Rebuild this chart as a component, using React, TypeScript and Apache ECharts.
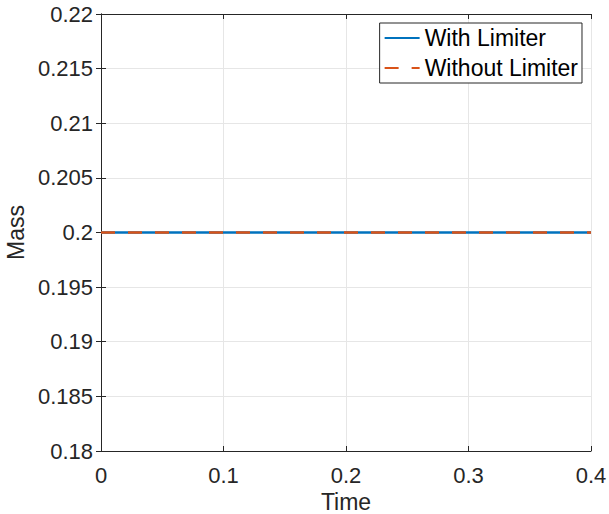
import React, { useEffect, useRef } from "react";
import * as echarts from "echarts";

// Total mass over time, with and without the slope limiter
const timeSteps = [0, 0.05, 0.1, 0.15, 0.2, 0.25, 0.3, 0.35, 0.4];
const massWithLimiter = [0.2, 0.2, 0.2, 0.2, 0.2, 0.2, 0.2, 0.2, 0.2];
const massWithoutLimiter = [0.2, 0.2, 0.2, 0.2, 0.2, 0.2, 0.2, 0.2, 0.2];
const seriesNames = ["With Limiter", "Without Limiter"];

const FONT = "'Liberation Sans', Arial, Helvetica, sans-serif";
const AXIS_COLOR = "#262626";
const GRID_COLOR = "#e6e6e6";
const TICK_FONT = 22;
const LEGEND_FONT = 23;
const TITLE_FONT = 23;

const fmt = (v: number) => String(parseFloat(v.toFixed(4)));

export default function App() {
  const ref = useRef<HTMLDivElement>(null);

  useEffect(() => {
    document.body.style.margin = "0";
    if (!ref.current) return;
    const chart = echarts.init(ref.current, undefined, { renderer: "svg" });

    const xCommon = {
      type: "value" as const,
      min: 0,
      max: 0.4,
      interval: 0.1,
    };
    const yCommon = {
      type: "value" as const,
      min: 0.18,
      max: 0.22,
      interval: 0.005,
    };
    const lineAxis = { show: true, lineStyle: { color: AXIS_COLOR, width: 1 } };
    const ticksIn = { show: true, inside: true, length: 5, lineStyle: { color: AXIS_COLOR } };

    chart.setOption({
      animation: false,
      backgroundColor: "#ffffff",
      textStyle: { fontFamily: FONT },
      grid: {
        left: 101,
        right: 18,
        top: 14,
        bottom: 63,
        containLabel: false,
        outerBoundsMode: "none",
      },
      legend: {
        orient: "vertical",
        right: 27,
        top: 23,
        data: seriesNames,
        itemWidth: 35,
        itemHeight: 14,
        itemGap: 6,
        padding: [3, 4, 3, 4],
        borderColor: AXIS_COLOR,
        borderWidth: 1,
        borderRadius: 0,
        backgroundColor: "#ffffff",
        itemStyle: { opacity: 0 },
        textStyle: {
          fontFamily: FONT,
          fontSize: LEGEND_FONT,
          lineHeight: 24,
          color: "#000",
        },
      },
      xAxis: [
        {
          ...xCommon,
          position: "bottom",
          name: "Time",
          nameLocation: "middle",
          nameGap: 37,
          nameTextStyle: { fontFamily: FONT, fontSize: TITLE_FONT, color: AXIS_COLOR },
          axisLine: lineAxis,
          axisTick: ticksIn,
          axisLabel: {
            fontFamily: FONT,
            fontSize: TICK_FONT,
            color: AXIS_COLOR,
            margin: 13,
            formatter: (v: number) => fmt(v),
          },
          splitLine: { show: true, lineStyle: { color: GRID_COLOR, width: 1 } },
        },
        {
          ...xCommon,
          position: "top",
          axisLine: lineAxis,
          axisTick: ticksIn,
          axisLabel: { show: false },
          splitLine: { show: false },
        },
      ],
      yAxis: [
        {
          ...yCommon,
          position: "left",
          name: "Mass",
          nameLocation: "middle",
          nameGap: 73,
          nameRotate: 90,
          nameTextStyle: { fontFamily: FONT, fontSize: TITLE_FONT, color: AXIS_COLOR },
          axisLine: lineAxis,
          axisTick: ticksIn,
          axisLabel: {
            fontFamily: FONT,
            fontSize: TICK_FONT,
            color: AXIS_COLOR,
            margin: 8,
            formatter: (v: number) => fmt(v),
          },
          splitLine: { show: true, lineStyle: { color: GRID_COLOR, width: 1 } },
        },
        {
          ...yCommon,
          position: "right",
          axisLine: lineAxis,
          axisTick: ticksIn,
          axisLabel: { show: false },
          splitLine: { show: false },
        },
      ],
      series: [
        {
          name: seriesNames[0],
          type: "line",
          xAxisIndex: 0,
          yAxisIndex: 0,
          showSymbol: false,
          symbol: "none",
          data: timeSteps.map((t, i) => [t, massWithLimiter[i]]),
          lineStyle: { color: "#0072BD", width: 2.5 },
          itemStyle: { color: "#0072BD" },
        },
        {
          name: seriesNames[1],
          type: "line",
          xAxisIndex: 0,
          yAxisIndex: 0,
          showSymbol: false,
          symbol: "none",
          data: timeSteps.map((t, i) => [t, massWithoutLimiter[i]]),
          lineStyle: { color: "#D95319", width: 2.5, type: [14, 13] },
          itemStyle: { color: "#D95319" },
        },
      ],
    });

    return () => chart.dispose();
  }, []);

  return <div ref={ref} style={{ width: 609, height: 514 }} />;
}
